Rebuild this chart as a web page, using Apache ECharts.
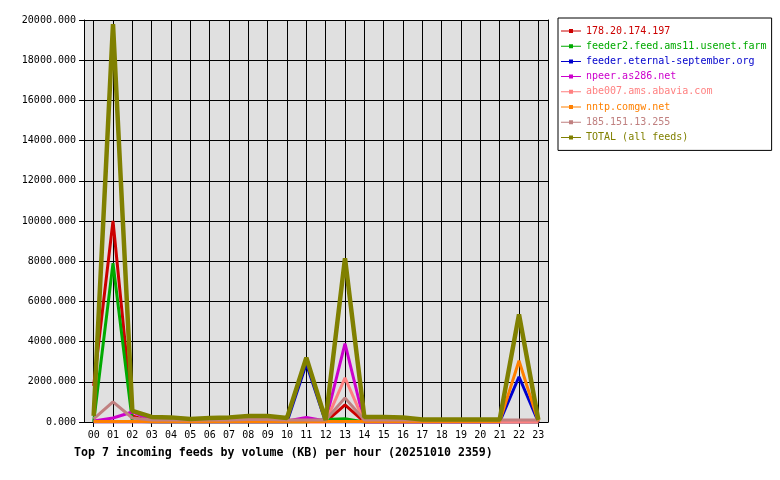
<!DOCTYPE html>
<html>
<head>
<meta charset="utf-8">
<script src="https://cdn.jsdelivr.net/npm/echarts@6/dist/echarts.min.js"></script>
<style>
  html, body { margin: 0; padding: 0; background: #fff; }
  #chart { width: 780px; height: 480px; }
</style>
</head>
<body>
<div id="chart"></div>
<script>
const hours = ["00","01","02","03","04","05","06","07","08","09","10","11",
               "12","13","14","15","16","17","18","19","20","21","22","23"];

const feedNames = [
  "178.20.174.197",
  "feeder2.feed.ams11.usenet.farm",
  "feeder.eternal-september.org",
  "npeer.as286.net",
  "abe007.ams.abavia.com",
  "nntp.comgw.net",
  "185.151.13.255",
  "TOTAL (all feeds)"
];

const feedColors = ["#cc0000", "#00aa00", "#0000cc", "#cc00cc", "#ff8080", "#ff8000", "#c08080", "#808000"];

// KB per hour
const red178 =    [1800, 10000, 300, 0, 0, 0, 0, 0, 0, 0, 0, 0, 0, 850, 0, 0, 0, 0, 0, 0, 0, 0, 0, 0];
const feeder2 =   [0, 7900, 50, 0, 0, 0, 0, 0, 0, 0, 0, 0, 120, 160, 0, 0, 0, 0, 0, 0, 0, 0, 0, 0];
const eternal =   [0, 0, 0, 0, 0, 0, 0, 0, 0, 0, 0, 2900, 0, 0, 0, 0, 0, 0, 0, 0, 0, 0, 2250, 0];
const npeer =     [50, 200, 500, 100, 50, 30, 30, 30, 30, 30, 50, 230, 50, 3900, 0, 0, 0, 0, 0, 0, 0, 0, 0, 0];
const abe007 =    [0, 0, 0, 0, 0, 0, 0, 0, 0, 0, 0, 0, 0, 2200, 0, 0, 0, 0, 0, 0, 0, 0, 0, 0];
const comgw =     [20, 20, 20, 20, 20, 20, 20, 20, 20, 20, 20, 20, 20, 20, 20, 20, 20, 20, 20, 20, 20, 20, 3050, 20];
const ip185 =     [150, 1000, 200, 100, 100, 100, 100, 100, 120, 120, 100, 100, 100, 1200, 100, 100, 100, 100, 100, 100, 100, 100, 100, 100];
const total =     [300, 19800, 550, 250, 230, 150, 200, 230, 300, 300, 200, 3200, 100, 8150, 250, 250, 220, 120, 120, 120, 120, 120, 5350, 100];

const feedData = [red178, feeder2, eternal, npeer, abe007, comgw, ip185, total];

const yTicksMax = 20000;
const yTickStep = 2000;
const titleText = "Top 7 incoming feeds by volume (KB) per hour (20251010 2359)";

(function feedChart() {
  var dom = document.getElementById("chart");
  var myChart = echarts.init(dom, null, { renderer: "canvas" });

  const mono = "'DejaVu Sans Mono', 'Liberation Mono', monospace";

  let series = feedNames.map((name, i) => ({
    name,
    type: "line",
    xAxisIndex: 1,
    yAxisIndex: 2,
    data: feedData[i],
    showSymbol: false,
    symbol: "none",
    lineStyle: { color: feedColors[i], width: i === feedNames.length - 1 ? 4.5 : 3 },
    itemStyle: { color: feedColors[i] },
    z: 3 + i,
  }));

  var option = {
    animation: false,
    title: {
      text: titleText,
      left: 74,
      top: 447,
      padding: 0,
      textStyle: { fontFamily: mono, fontSize: 11.6, fontWeight: "bold", color: "#000" },
    },
    legend: {
      orient: "vertical",
      left: 558,
      top: 18,
      padding: [7, 5, 7, 3],
      borderColor: "#000",
      borderWidth: 1,
      itemWidth: 20,
      itemHeight: 8,
      itemGap: 3.2,
      icon: "path://M0,3.5H20V4.5H0Z M8,2H12V6H8Z",
      data: feedNames.map((name, i) => ({
        name,
        textStyle: { color: feedColors[i] },
      })),
      textStyle: { fontFamily: mono, fontSize: 10, lineHeight: 12 },
    },
    grid: [
      { left: 84, top: 20, width: 464, height: 402, show: true, backgroundColor: "#e0e0e0", borderWidth: 0 },
      { left: 84 + 464 / 48, top: 20, width: 464 - 464 / 24, height: 402 },
    ],
    xAxis: [
      {
        gridIndex: 0,
        type: "value",
        min: 0,
        max: 1,
        axisLine: { show: true, lineStyle: { color: "#000", width: 1 } },
        axisTick: { show: false },
        axisLabel: { show: false },
        splitLine: { show: false },
      },
      {
        gridIndex: 1,
        type: "category",
        boundaryGap: false,
        data: hours,
        axisLine: { show: false },
        axisTick: { show: true, length: 5, lineStyle: { color: "#000" } },
        axisLabel: { fontFamily: mono, fontSize: 10, color: "#000", margin: 8, interval: 0 },
        splitLine: { show: true, lineStyle: { color: "#000", width: 1 } },
      },
    ],
    yAxis: [
      {
        gridIndex: 0,
        type: "value",
        min: 0,
        max: yTicksMax,
        interval: yTickStep,
        axisLine: { show: true, lineStyle: { color: "#000" } },
        axisTick: { show: true, length: 5, lineStyle: { color: "#000" } },
        axisLabel: {
          fontFamily: mono,
          fontSize: 10,
          color: "#000",
          margin: 8,
          formatter: (v) => v.toFixed(3),
        },
        splitLine: { show: true, lineStyle: { color: "#000", width: 1 } },
      },
      {
        gridIndex: 0,
        type: "value",
        position: "right",
        min: 0,
        max: yTicksMax,
        axisLine: { show: true, lineStyle: { color: "#000" } },
        axisTick: { show: false },
        axisLabel: { show: false },
        splitLine: { show: false },
      },
      {
        gridIndex: 1,
        type: "value",
        min: 0,
        max: yTicksMax,
        show: false,
      },
    ],
    series,
  };

  option && myChart.setOption(option);
})();
</script>
</body>
</html>
